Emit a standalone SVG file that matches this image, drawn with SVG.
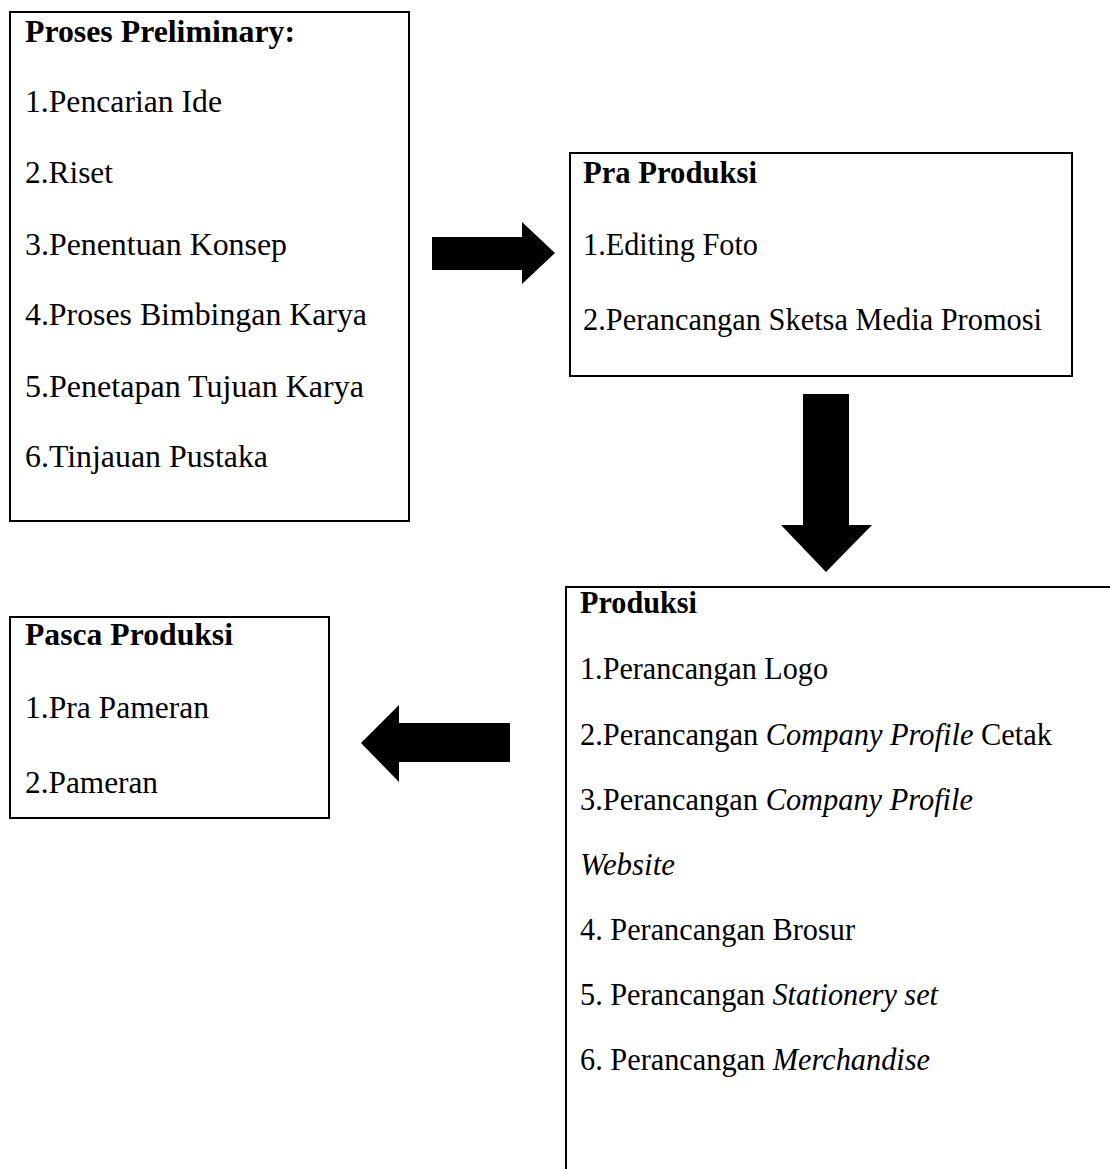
<svg xmlns="http://www.w3.org/2000/svg" width="1110" height="1169" viewBox="0 0 1110 1169">
<style>
.box{fill:#fff;stroke:#000;stroke-width:2}
text{font-family:"Liberation Serif","Times New Roman",serif;fill:#000}
.t{font-weight:bold;font-size:31px}
.r{font-size:31px}
.r2{font-size:32px}
.b2{font-weight:bold;font-size:31px}
.i{font-style:italic}
.arrow{fill:#000}
</style>
<rect width="1110" height="1169" fill="#fff"/>
<g id="preliminary">
<rect class="box" x="10" y="12" width="399" height="509"/>
<text class="t" x="25" y="42" textLength="270" lengthAdjust="spacingAndGlyphs">Proses Preliminary:</text>
<text class="r" x="25" y="112" textLength="197" lengthAdjust="spacingAndGlyphs">1.Pencarian Ide</text>
<text class="r" x="25" y="183" textLength="88" lengthAdjust="spacingAndGlyphs">2.Riset</text>
<text class="r" x="25" y="255" textLength="262" lengthAdjust="spacingAndGlyphs">3.Penentuan Konsep</text>
<text class="r" x="25" y="325" textLength="342" lengthAdjust="spacingAndGlyphs">4.Proses Bimbingan Karya</text>
<text class="r" x="25" y="397" textLength="339" lengthAdjust="spacingAndGlyphs">5.Penetapan Tujuan Karya</text>
<text class="r" x="25" y="467" textLength="243" lengthAdjust="spacingAndGlyphs">6.Tinjauan Pustaka</text>
</g>
<g id="pra-produksi">
<rect class="box" x="570" y="153" width="502" height="223"/>
<text class="b2" x="583" y="183" textLength="174" lengthAdjust="spacingAndGlyphs">Pra Produksi</text>
<text class="r2" x="583" y="255" textLength="175" lengthAdjust="spacingAndGlyphs">1.Editing Foto</text>
<text class="r2" x="583" y="330" textLength="459" lengthAdjust="spacingAndGlyphs">2.Perancangan Sketsa Media Promosi</text>
</g>
<g id="produksi">
<rect class="box" x="566" y="587" width="600" height="700"/>
<text class="t" x="580" y="613" textLength="117" lengthAdjust="spacingAndGlyphs">Produksi</text>
<text class="r" x="580" y="679" textLength="248" lengthAdjust="spacingAndGlyphs">1.Perancangan Logo</text>
<text class="r" x="580" y="745" textLength="472" lengthAdjust="spacingAndGlyphs">2.Perancangan <tspan class="i">Company Profile</tspan> Cetak</text>
<text class="r" x="580" y="810" textLength="393" lengthAdjust="spacingAndGlyphs">3.Perancangan <tspan class="i">Company Profile</tspan></text>
<text class="r i" x="580" y="875" textLength="95" lengthAdjust="spacingAndGlyphs">Website</text>
<text class="r" x="580" y="940" textLength="275" lengthAdjust="spacingAndGlyphs">4. Perancangan Brosur</text>
<text class="r" x="580" y="1005" textLength="358" lengthAdjust="spacingAndGlyphs">5. Perancangan <tspan class="i">Stationery set</tspan></text>
<text class="r" x="580" y="1070" textLength="350" lengthAdjust="spacingAndGlyphs">6. Perancangan <tspan class="i">Merchandise</tspan></text>
</g>
<g id="pasca-produksi">
<rect class="box" x="10" y="617" width="319" height="201"/>
<text class="t" x="25" y="645" textLength="208" lengthAdjust="spacingAndGlyphs">Pasca Produksi</text>
<text class="r" x="25" y="718" textLength="184" lengthAdjust="spacingAndGlyphs">1.Pra Pameran</text>
<text class="r" x="25" y="793" textLength="133" lengthAdjust="spacingAndGlyphs">2.Pameran</text>
</g>
<g id="connectors">
<polygon class="arrow" points="432,237 522,237 522,222 555,253 522,284 522,270 432,270"/>
<polygon class="arrow" points="803,394 849,394 849,525 872,525 826,572 781,525 803,525"/>
<polygon class="arrow" points="510,723 399,723 399,705 361,743 399,782 399,762 510,762"/>
</g>
</svg>
